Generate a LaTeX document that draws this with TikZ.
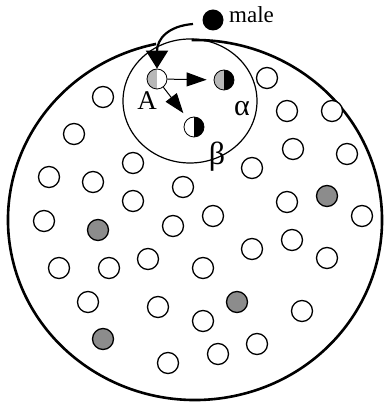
\documentclass[tikz,border=0pt]{standalone}
\usepackage{fontspec}
\setmainfont{Liberation Serif}
\usetikzlibrary{arrows.meta}
\definecolor{dotgray}{gray}{0.55}
\definecolor{halfgray}{gray}{0.72}
\tikzset{
  cell/.style={circle, draw=black, line width=1.3pt, minimum size=21pt, inner sep=0pt, fill=white},
  graycell/.style={cell, fill=dotgray},
  halfcell/.style 2 args={circle, draw=black, line width=0.8pt, minimum size=20pt, inner sep=0pt,
    path picture={
      \fill[#1] (path picture bounding box.south west) rectangle (path picture bounding box.north);
      \fill[#2] (path picture bounding box.south) rectangle (path picture bounding box.north east);
    }},
  lbl/.style={inner sep=0pt},
  thinarrow/.style={line width=1pt, -{Triangle[length=20pt,width=14pt]}},
}
\begin{document}
\begin{tikzpicture}[x=1pt,y=1pt]
\useasboundingbox (0,0) rectangle (390,407);
% big ellipse with gap at top
\draw[line width=2.6pt] (195,187) ++(102:187 and 180) arc[start angle=102, end angle=451, x radius=187, y radius=180];
% inner circle
\draw[line width=1.2pt] (190,306) ellipse [x radius=67, y radius=62];
% particles
\foreach \x/\y [count=\i] in {267/78,103/97,287/111,332/111,74/134,293/149,347/154,133/163,252/168,49/177,93/182,183/187,133/201,287/202,362/216,213/216,44/221,173/226,252/249,292/240,327/258,59/268,109/268,148/259,203/268,88/302,158/307,203/321,302/311,168/363,218/354,257/344}
  \node[cell] (p\i) at (\x,407-\y) {};
\foreach \x/\y [count=\i] in {327/196,98/230,237/302,103/339}
  \node[graycell] (g\i) at (\x,407-\y) {};
% male
\node[circle, fill=black, minimum size=21pt, inner sep=0pt] (male) at (213,387) {};
\node[anchor=west, font=\fontsize{23}{23}\selectfont, inner sep=0pt] (malelbl) at (229,392) {male};
% half cells
\node[halfcell={halfgray}{white}] (A) at (157,328) {};
\node[halfcell={halfgray}{black}] (B) at (224,327) {};
\node[halfcell={white}{black}] (C) at (194,280) {};
\node[lbl, font=\fontsize{27}{27}\selectfont] (Alab) at (147,306) {A};
\node[lbl, font=\fontsize{30}{30}\selectfont] (alab) at (242,298) {α};
\node[lbl, font=\fontsize{32}{32}\selectfont] (blab) at (217,250) {β};
% arrows
\coordinate (mstart) at (193,383);
\draw[line width=2.2pt, -{Triangle[length=18pt,width=22pt]}] (mstart) .. controls (168,381) and (157,368) .. (A.north);
\draw[thinarrow, shorten >=7pt] (A) -- (B);
\draw[thinarrow, shorten >=7pt] (A) -- (C);
\end{tikzpicture}
\end{document}
